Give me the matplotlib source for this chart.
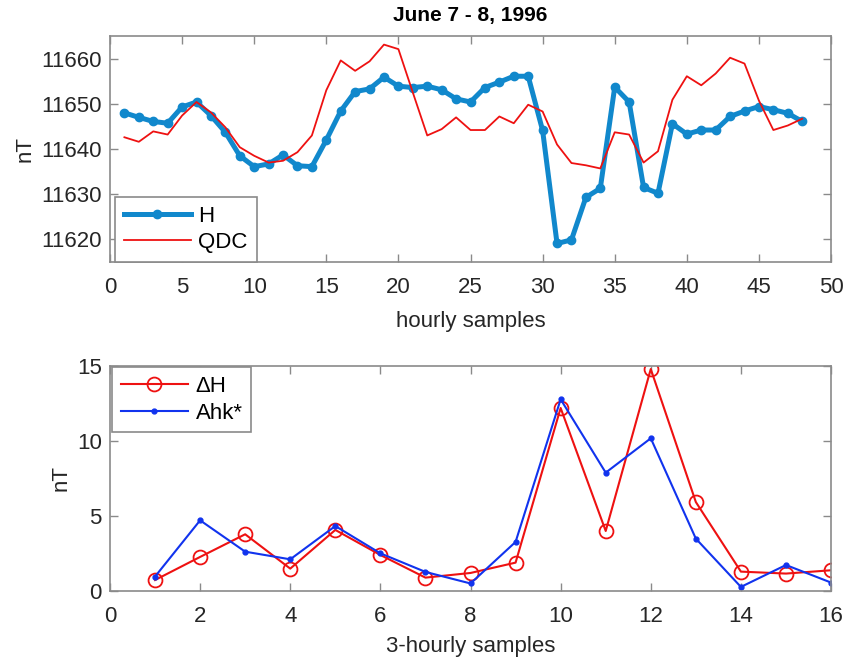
"""Hourly H against QDC, and 3-hourly dH against Ahk*, for June 7 - 8, 1996."""

import matplotlib

matplotlib.use("Agg")
import matplotlib.pyplot as plt

hours = list(range(1, 49))
h_values = [
    11648.0, 11647.0, 11646.1, 11645.7, 11649.3, 11650.4, 11647.4, 11643.7,
    11638.5, 11636.1, 11636.7, 11638.7, 11636.3, 11636.1, 11642.0, 11648.4,
    11652.7, 11653.3, 11655.9, 11653.9, 11653.6, 11653.9, 11653.1, 11651.1,
    11650.4, 11653.6, 11654.8, 11656.1, 11656.1, 11644.1, 11619.1, 11619.9,
    11629.3, 11631.3, 11653.7, 11650.4, 11631.5, 11630.2, 11645.6, 11643.3,
    11644.2, 11644.2, 11647.2, 11648.4, 11649.4, 11648.7, 11647.9, 11646.1,
]
qdc_values = [
    11642.6, 11641.6, 11643.9, 11643.2, 11647.4, 11650.4, 11648.1, 11644.8,
    11640.4, 11638.5, 11637.0, 11637.4, 11639.3, 11643.0, 11653.0, 11659.6,
    11657.3, 11659.4, 11663.1, 11662.1, 11652.5, 11643.0, 11644.4, 11647.0,
    11644.2, 11644.2, 11647.2, 11645.7, 11649.8, 11648.3, 11641.0, 11636.9,
    11636.4, 11635.7, 11643.7, 11643.2, 11637.0, 11639.5, 11650.9, 11656.1,
    11654.1, 11656.7, 11660.2, 11658.9, 11650.7, 11644.2, 11645.2, 11646.7,
]

samples_3h = list(range(1, 17))
delta_h = [0.73, 2.27, 3.78, 1.49, 4.07, 2.4, 0.89, 1.2,
           1.89, 12.2, 4.0, 14.8, 5.93, 1.29, 1.16, 1.38]
ahk = [0.96, 4.71, 2.62, 2.11, 4.33, 2.51, 1.27, 0.5,
       3.27, 12.78, 7.89, 10.18, 3.49, 0.27, 1.73, 0.56]

AXIS_GREY = "#8a8a8a"
TEXT_COLOR = "#262626"

plt.rcParams["font.family"] = ["Liberation Sans", "DejaVu Sans"]
plt.rcParams["font.size"] = 16


def style_axes(ax):
    """MATLAB-like box with inward ticks on all sides."""
    for spine in ax.spines.values():
        spine.set_color(AXIS_GREY)
        spine.set_linewidth(1.2)
    ax.tick_params(direction="in", top=True, right=True, length=6,
                   width=1.0, color=AXIS_GREY, labelcolor=TEXT_COLOR)
    ax.tick_params(axis="x", pad=11)
    ax.tick_params(axis="y", pad=6)


fig = plt.figure(figsize=(8.48, 6.62), dpi=100)
ax1 = fig.add_axes([0.1297, 0.6042, 0.8503, 0.3414])
ax2 = fig.add_axes([0.1297, 0.1073, 0.8503, 0.3398])

ax1.plot(hours, h_values, color="#1188cc", linewidth=3.6, marker="o",
         markersize=6, label="H", zorder=2)
ax1.plot(hours, qdc_values, color="#ee1111", linewidth=1.3, label="QDC",
         zorder=3)
ax1.set_xlim(0, 50)
ax1.set_ylim(11615, 11665)
ax1.set_xticks(range(0, 51, 5))
ax1.set_yticks(range(11620, 11661, 10))
ax1.set_xlabel("hourly samples", color=TEXT_COLOR, labelpad=9)
ax1.set_ylabel("nT", color=TEXT_COLOR, labelpad=4)
ax1.set_title("June 7 - 8, 1996", fontweight="bold", fontsize=15, pad=11)
style_axes(ax1)
leg1 = ax1.legend(loc="lower left", bbox_to_anchor=(0.007, 0.0),
                  borderaxespad=0, fancybox=False, edgecolor=AXIS_GREY,
                  handlelength=3.0, handletextpad=0.35, labelspacing=0.25,
                  borderpad=0.4, framealpha=1, numpoints=1)
leg1.get_frame().set_linewidth(1.2)

ax2.plot(samples_3h, delta_h, color="#ee1111", linewidth=1.5, marker="o",
         markersize=10, markerfacecolor="none", markeredgewidth=1.3,
         label="ΔH")
ax2.plot(samples_3h, ahk, color="#1133ee", linewidth=1.5, marker=".",
         markersize=7, label="Ahk*")
ax2.set_xlim(0, 16)
ax2.set_ylim(0, 15)
ax2.set_xticks(range(0, 17, 2))
ax2.set_yticks(range(0, 16, 5))
ax2.set_xlabel("3-hourly samples", color=TEXT_COLOR, labelpad=6)
ax2.set_ylabel("nT", color=TEXT_COLOR)
style_axes(ax2)
leg2 = ax2.legend(loc="upper left", bbox_to_anchor=(0.003, 0.995),
                  borderaxespad=0, fancybox=False, edgecolor=AXIS_GREY,
                  handlelength=3.0, handletextpad=0.35, labelspacing=0.25,
                  borderpad=0.4, framealpha=1, numpoints=1)
leg2.get_frame().set_linewidth(1.2)

fig.savefig("out.png", dpi=100)
